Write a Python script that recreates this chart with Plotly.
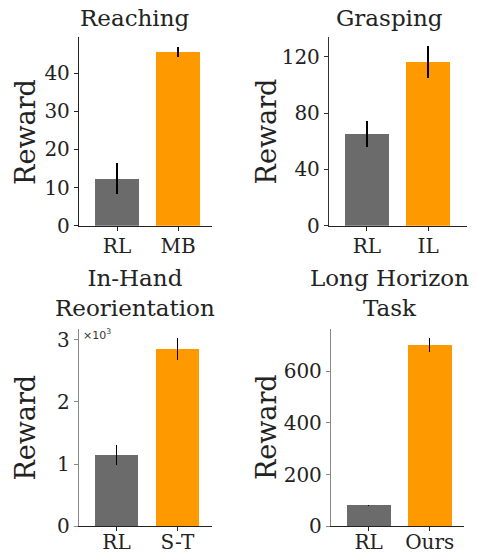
import plotly.graph_objects as go

W, H = 478, 560

titles = ["Reaching", "Grasping", "In-Hand<br>Reorientation", "Long Horizon<br>Task"]
categories = [["RL", "MB"], ["RL", "IL"], ["RL", "S-T"], ["RL", "Ours"]]
means = [[12.3, 45.6], [65.3, 116.2], [1140, 2850], [82, 702]]
errors = [[4.1, 1.3], [9.1, 11.1], [160, 170], [2, 27]]
ytickvals = [[0, 10, 20, 30, 40], [0, 40, 80, 120], [0, 1000, 2000, 3000], [0, 200, 400, 600]]
yticktext = [["0", "10", "20", "30", "40"], ["0", "40", "80", "120"], ["0", "1", "2", "3"], ["0", "200", "400", "600"]]
ymax = [49.5, 133.9, 3168, 762]

bar_colors = ["#6b6b6b", "#ff9900"]
FONT = "DejaVu Serif"


def px(x):
    return x / W


def py(y):
    return 1 - y / H


# pixel boxes (left, right, top, bottom)
boxes = [(79, 212, 37, 230), (329, 467, 37, 230), (79, 212, 336, 537.7), (331, 464, 336, 537.7)]
xranges = [(-0.623, 1.557), (-0.618, 1.634), (-0.615, 1.566), (-0.618, 1.562)]
spine_y = ["#222", "#333", "#888", "#888"]
xlab_standoff = [-2, -2, -6, -6]

fig = go.Figure()
for i in range(4):
    sfx = "" if i == 0 else str(i + 1)
    fig.add_trace(go.Bar(
        x=[0, 1], y=means[i], width=0.72,
        marker=dict(color=bar_colors, line=dict(width=0)),
        error_y=dict(type="data", array=errors[i], width=0, thickness=1.5, color="black"),
        xaxis="x" + sfx, yaxis="y" + sfx, showlegend=False, hoverinfo="skip",
    ))
    l, r, t, b = boxes[i]
    fig.update_layout(**{
        "xaxis" + sfx: dict(
            domain=[px(l), px(r)], range=list(xranges[i]), anchor="y" + sfx,
            tickvals=[0, 1], ticktext=categories[i], ticks="outside", ticklen=4,
            ticklabelstandoff=xlab_standoff[i],
            tickcolor="#222", showline=True, linecolor="#222", linewidth=1.3,
            showgrid=False, zeroline=False, tickfont=dict(family=FONT, size=20, color="#222"),
        ),
        "yaxis" + sfx: dict(
            domain=[py(b), py(t)], range=[0, ymax[i]], anchor="x" + sfx,
            tickvals=ytickvals[i], ticktext=yticktext[i], ticks="outside", ticklen=4,
            tickcolor=spine_y[i], showline=True, linecolor=spine_y[i], linewidth=1.3,
            showgrid=False, zeroline=False, tickfont=dict(family=FONT, size=20, color="#222"),
        ),
    })

annotations = []
title_pos = [(134.5, 17), (389, 17), (134.5, 299), (389, 299)]
for i, (tx, ty) in enumerate(title_pos):
    annotations.append(dict(
        text=titles[i], x=px(tx), y=py(ty), xref="paper", yref="paper",
        xanchor="center", yanchor="middle", showarrow=False,
        font=dict(family=FONT, size=23, color="#222"),
    ))
ylab_pos = [(26, 134), (266.5, 134), (26, 436.7), (266.5, 436.7)]
for (lx, ly) in ylab_pos:
    annotations.append(dict(
        text="Reward", x=px(lx), y=py(ly), xref="paper", yref="paper",
        xanchor="center", yanchor="middle", textangle=-90, showarrow=False,
        font=dict(family=FONT, size=27, color="#222"),
    ))
annotations.append(dict(
    text="×10<sup>3</sup>", x=px(81), y=py(341), xref="paper", yref="paper",
    xanchor="left", yanchor="middle", showarrow=False,
    font=dict(family="DejaVu Sans", size=11, color="#333"),
))

fig.update_layout(
    width=W, height=H, margin=dict(l=0, r=0, t=0, b=0),
    paper_bgcolor="white", plot_bgcolor="white",
    annotations=annotations, bargap=0,
)

fig.write_html(
    "out.html",
    config={"displayModeBar": False},
    post_script="document.body.style.margin='0';document.body.style.overflow='hidden';",
)
